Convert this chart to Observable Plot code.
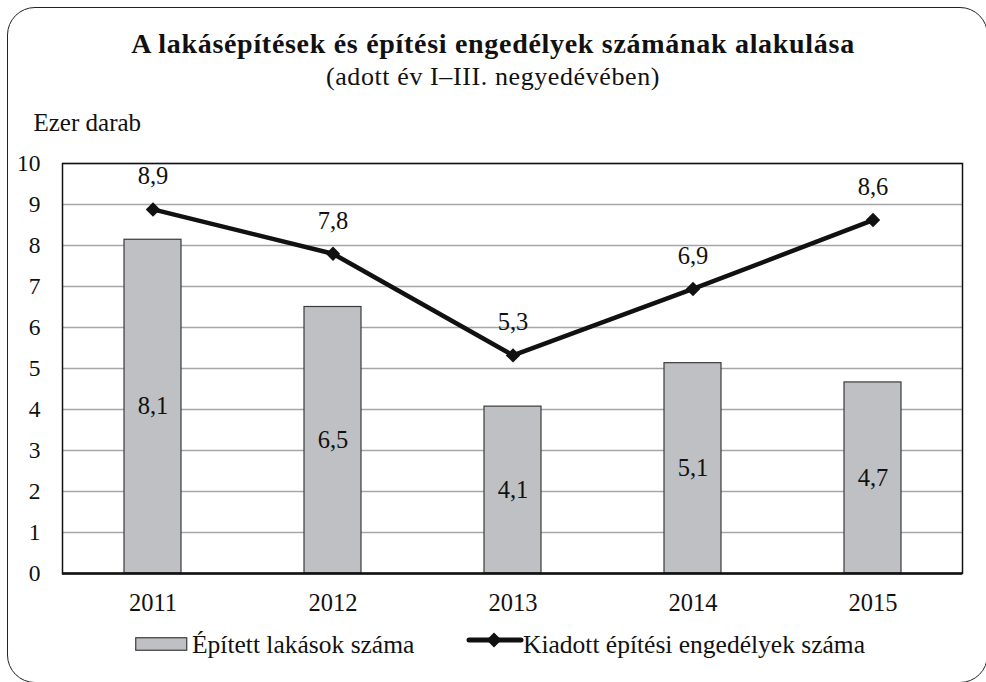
<!DOCTYPE html>
<html>
<head>
<meta charset="utf-8">
<script src="https://cdn.jsdelivr.net/npm/d3@7"></script>
<script src="https://cdn.jsdelivr.net/npm/@observablehq/plot@0.6"></script>
<style>
  html, body { margin: 0; padding: 0; background: #fff; overflow: hidden; }
  #wrap { position: relative; width: 986px; height: 682px; font-family: "Liberation Serif", "Times New Roman", serif; color: #111; }
  #border { position: absolute; left: 7px; top: 7px; width: 981px; height: 676px; border: 1.5px solid #222; border-radius: 28px; box-sizing: border-box; pointer-events: none; }
  .title { position: absolute; left: 0; width: 986px; text-align: center; white-space: nowrap; line-height: 1; }
  #t1 { top: 30px; font-size: 28px; font-weight: bold; letter-spacing: 0.7px; }
  #t2 { top: 64px; font-size: 26px; letter-spacing: 0.6px; }
  #chart { position: absolute; left: 0; top: 100px; }
  .lgtext { position: absolute; font-size: 25.5px; line-height: 1; white-space: nowrap; }
</style>
</head>
<body>
<div id="wrap">
  <div id="border"></div>
  <div class="title" id="t1"></div>
  <div class="title" id="t2"></div>
  <div id="chart"></div>
  <svg width="53" height="15" style="position:absolute;left:135px;top:637px"><rect x="0.75" y="0.75" width="51" height="12.5" fill="#bfc0c4" stroke="#3a3a3a" stroke-width="1.2"/></svg>
  <div class="lgtext" id="lg1" style="left:192px;top:632px"></div>
  <svg width="58" height="18" style="position:absolute;left:466px;top:631px"><line x1="3" y1="9" x2="55" y2="9" stroke="#111" stroke-width="5" stroke-linecap="round"/><path d="M28,1.5 L35.5,9 L28,16.5 L20.5,9 Z" fill="#111"/></svg>
  <div class="lgtext" id="lg2" style="left:523px;top:632px"></div>
</div>
<script>
const titleText = "A lakásépítések és építési engedélyek számának alakulása";
const subtitleText = "(adott év I–III. negyedévében)";
const years = ["2011", "2012", "2013", "2014", "2015"];
const built = [8.14, 6.5, 4.07, 5.13, 4.66];
const permits = [8.88, 7.8, 5.32, 6.94, 8.62];
const yTicks = [0, 1, 2, 3, 4, 5, 6, 7, 8, 9, 10];
const seriesNames = ["Épített lakások száma", "Kiadott építési engedélyek száma"];
const yLabel = "Ezer darab";

const data = years.map((year, i) => ({year, built: built[i], permits: permits[i]}));
const fmt = v => v.toFixed(1).replace(".", ",");

document.getElementById("t1").textContent = titleText;
document.getElementById("t2").textContent = subtitleText;
document.getElementById("lg1").textContent = seriesNames[0];
document.getElementById("lg2").textContent = seriesNames[1];

const chart = Plot.plot({
  width: 986,
  height: 530,
  marginTop: 63,
  marginBottom: 57,
  marginLeft: 62,
  marginRight: 24,
  style: {fontFamily: "'Liberation Serif', 'Times New Roman', serif", fontSize: "24px", color: "#111", background: "transparent", overflow: "visible"},
  x: {type: "band", domain: years, paddingInner: 0.685, paddingOuter: 0.3425, label: null},
  y: {domain: [0, 10], label: null},
  marks: [
    Plot.gridY(yTicks, {stroke: "#a6a6a6", strokeOpacity: 1, strokeWidth: 1.5}),
    Plot.barY(data, {x: "year", y: "built", fill: "#bfc0c4", stroke: "#3a3a3a", strokeWidth: 1.2}),
    Plot.frame({stroke: "#111", strokeWidth: 1.5}),
    Plot.ruleY([0], {stroke: "#111", strokeWidth: 2.5}),
    Plot.axisY(yTicks, {tickSize: 0, tickPadding: 22, fontSize: 23.5, tickFormat: d => String(d), label: null}),
    Plot.axisX({tickSize: 0, tickPadding: 20, fontSize: 24.5, label: null}),
    Plot.text(data, {x: "year", y: d => d.built / 2, text: d => fmt(d.built), fontSize: 24.5, fill: "#111"}),
    Plot.line(data, {x: "year", y: "permits", stroke: "#111", strokeWidth: 4.5}),
    Plot.dot(data, {x: "year", y: "permits", symbol: "diamond2", r: 6.5, fill: "#111", stroke: "none"}),
    Plot.text(data, {x: "year", y: "permits", text: d => fmt(d.permits), dy: -33, fontSize: 24.5, fill: "#111"}),
    Plot.text([yLabel], {frameAnchor: "top-left", lineAnchor: "middle", dx: -29, dy: -41, textAnchor: "start", fontSize: 25, fill: "#111"})
  ]
});
document.getElementById("chart").appendChild(chart);
</script>
</body>
</html>
